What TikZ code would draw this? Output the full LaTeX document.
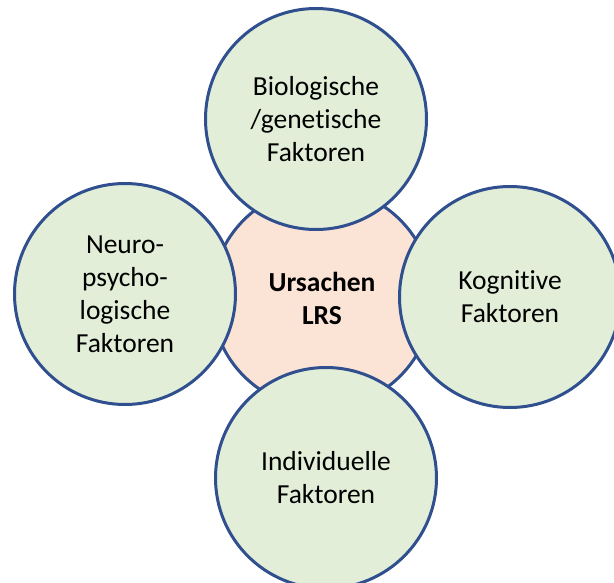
\documentclass[tikz,border=0pt]{standalone}
\usepackage{fontspec}
\setmainfont[Ligatures=NoCommon]{Carlito}
\usepackage{tikz}

\definecolor{rimblue}{HTML}{2F4F8F}
\definecolor{leafgreen}{HTML}{E2EED8}
\definecolor{peach}{HTML}{FBE3D6}

\tikzset{
  factor/.style={circle, draw=rimblue, line width=3pt, fill=leafgreen,
    minimum size=221pt, inner sep=0pt, align=center,
    font=\fontsize{27.5}{33}\selectfont},
  cause/.style={factor, fill=peach, font=\fontsize{27.5}{33}\selectfont\bfseries}
}

\begin{document}
\begin{tikzpicture}[line cap=round,line join=round,x=1pt,y=1pt]
\useasboundingbox (0,0) rectangle (614,582);
% middle first, the four around it lie on top
\node[cause] (ursachen) at (322,284) {Ursachen\\LRS};
\node[factor] (bio) at (316,463) {Biologische\\/genetische\\Faktoren};
\node[factor] (neuro) at (125,288) {Neuro-\\psycho-\\logische\\Faktoren};
\node[factor] (kognitiv) at (510,285) {Kognitive\\Faktoren};
\node[factor] (indiv) at (326,104) {Individuelle\\Faktoren};
\end{tikzpicture}
\end{document}
